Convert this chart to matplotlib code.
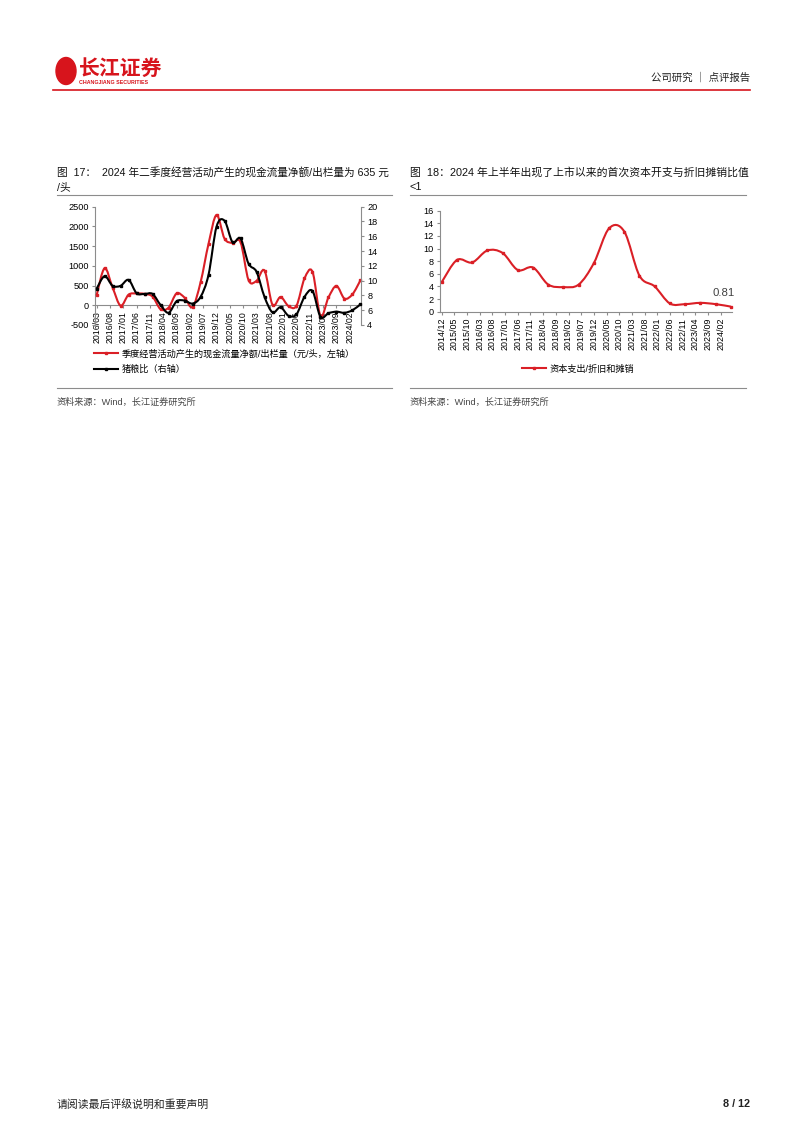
import matplotlib
matplotlib.use("Agg")
import matplotlib.pyplot as plt
import numpy as np
from matplotlib.path import Path
from matplotlib.patches import PathPatch, Ellipse
from matplotlib.lines import Line2D

plt.rcParams['font.family'] = ['Liberation Sans', 'Noto Sans CJK SC', 'DejaVu Sans']
plt.rcParams['axes.unicode_minus'] = False

# ---- data: figure 17 (quarterly) ----
left_dates = ['2016/03', '2016/06', '2016/09', '2016/12',
              '2017/03', '2017/06', '2017/09', '2017/12',
              '2018/03', '2018/06', '2018/09', '2018/12',
              '2019/03', '2019/06', '2019/09', '2019/12',
              '2020/03', '2020/06', '2020/09', '2020/12',
              '2021/03', '2021/06', '2021/09', '2021/12',
              '2022/03', '2022/06', '2022/09', '2022/12',
              '2023/03', '2023/06', '2023/09', '2023/12',
              '2024/03', '2024/06']
cash_per_head = [250, 940, 450, -10,
                 270, 300, 290, 220,
                 -100, -60, 300, 195,
                 -45, 580, 1560, 2290,
                 1690, 1580, 1600, 640,
                 620, 880, 10, 210,
                 -20, -10, 680, 850,
                 -270, 200, 490, 170,
                 280, 635]
pig_grain = [8.9, 10.6, 9.3, 9.3,
             10.1, 8.3, 8.2, 8.2,
             6.7, 5.65, 7.2, 7.3,
             6.9, 7.8, 10.8, 17.3,
             18.1, 15.2, 15.7, 12.3,
             11.2, 7.8, 5.7, 6.4,
             5.25, 5.45, 7.8, 8.6,
             5.1, 5.6, 5.8, 5.65,
             6.0, 6.8]
left_ticklabels = ['2016/03', '2016/08', '2017/01', '2017/06', '2017/11',
                   '2018/04', '2018/09', '2019/02', '2019/07', '2019/12',
                   '2020/05', '2020/10', '2021/03', '2021/08', '2022/01',
                   '2022/06', '2022/11', '2023/04', '2023/09', '2024/02']

# ---- data: figure 18 (semi-annual) ----
right_dates = ['2014/12', '2015/06', '2015/12', '2016/06', '2016/12',
               '2017/06', '2017/12', '2018/06', '2018/12', '2019/06',
               '2019/12', '2020/06', '2020/12', '2021/06', '2021/12',
               '2022/06', '2022/12', '2023/06', '2023/12', '2024/06']
capex_ratio = [4.7, 8.2, 7.8, 9.7, 9.3, 6.6, 7.0, 4.3, 3.9, 4.3,
               7.7, 13.2, 12.7, 5.7, 4.0, 1.3, 1.2, 1.4, 1.2, 0.81]
right_ticklabels = ['2014/12', '2015/05', '2015/10', '2016/03', '2016/08',
                    '2017/01', '2017/06', '2017/11', '2018/04', '2018/09',
                    '2019/02', '2019/07', '2019/12', '2020/05', '2020/10',
                    '2021/03', '2021/08', '2022/01', '2022/06', '2022/11',
                    '2023/04', '2023/09', '2024/02']

RED = '#DA1F26'
GRAY = '#8C8C8C'
W, H = 802, 1133


def month_index(labels, start):
    """months elapsed since the start label, e.g. '2016/03'"""
    y0, m0 = map(int, start.split('/'))
    out = []
    for s in labels:
        y, m = map(int, s.split('/'))
        out.append((y - y0) * 12 + (m - m0))
    return np.array(out, dtype=float)


def smooth_path(xs, ys):
    """Excel-like smoothed line through the points (cubic bezier)"""
    pts = np.column_stack([xs, ys]).astype(float)
    n = len(pts)
    verts = [pts[0]]
    codes = [Path.MOVETO]
    for i in range(n - 1):
        p0 = pts[i - 1] if i > 0 else pts[i]
        p1, p2 = pts[i], pts[i + 1]
        p3 = pts[i + 2] if i + 2 < n else pts[i + 1]
        verts += [p1 + (p2 - p0) / 6, p2 - (p3 - p1) / 6, p2]
        codes += [Path.CURVE4] * 3
    return Path(verts, codes)


def fx(px):
    return px / W


def fy(py):
    return 1 - py / H


def hline(fig, x0, x1, y, color, lw):
    fig.add_artist(Line2D([fx(x0), fx(x1)], [fy(y), fy(y)],
                          transform=fig.transFigure, color=color, lw=lw))


fig = plt.figure(figsize=(W / 100, H / 100), dpi=100)

# header
fig.add_artist(Ellipse((fx(66), fy(71)), fx(20) - fx(0), fy(0) - fy(27),
                       transform=fig.transFigure, color='#D7141C'))
fig.text(fx(79), fy(68), '长江证券', color='#D7141C', fontsize=15,
         fontweight='bold', va='center', family=['Noto Sans CJK SC'])
fig.text(fx(79), fy(82), 'CHANGJIANG SECURITIES', color='#D7141C',
         fontsize=3.8, fontweight='bold', va='center')
fig.text(fx(750), fy(78), '公司研究 ｜ 点评报告', fontsize=7.5, ha='right',
         va='center', color='#222222')
hline(fig, 53, 750, 90, '#D7141C', 1.2)

# titles
fig.text(fx(57), fy(172), '图  17：  2024 年二季度经营活动产生的现金流量净额/出栏量为 635 元',
         fontsize=7.7, va='center', color='#111111')
fig.text(fx(57), fy(187), '/头', fontsize=7.7, va='center', color='#111111')
fig.text(fx(410), fy(172), '图  18：2024 年上半年出现了上市以来的首次资本开支与折旧摊销比值',
         fontsize=7.8, va='center', color='#111111')
fig.text(fx(410), fy(187), '<1', fontsize=7.8, va='center', color='#111111')
hline(fig, 57, 392, 195, GRAY, 0.8)
hline(fig, 410, 746, 195, GRAY, 0.8)
hline(fig, 57, 392, 388, GRAY, 0.8)
hline(fig, 410, 746, 388, GRAY, 0.8)
fig.text(fx(57), fy(402), '资料来源：Wind，长江证券研究所', fontsize=6.6,
         va='center', color='#444444')
fig.text(fx(410), fy(402), '资料来源：Wind，长江证券研究所', fontsize=6.6,
         va='center', color='#444444')

# footer
fig.text(fx(57), fy(1104), '请阅读最后评级说明和重要声明', fontsize=7.8,
         va='center', color='#222222')
fig.text(fx(750), fy(1104), '8 / 12', fontsize=7.8, ha='right', va='center',
         fontweight='bold', color='#222222')

# ---- left chart ----
lx = month_index(left_dates, '2016/03')
ax = fig.add_axes([fx(95), fy(325), fx(361) - fx(95), fy(206.7) - fy(325)])
ax2 = ax.twinx()
ax.set_ylim(-500, 2500)
ax.set_yticks(np.arange(-500, 2501, 500))
ax2.set_ylim(4, 20)
ax2.set_yticks(np.arange(4, 21, 2))
ax.set_xlim(-0.6, 99.2)

for a in (ax, ax2):
    a.spines['top'].set_visible(False)
ax2.spines['bottom'].set_visible(False)
ax.spines['right'].set_visible(False)
ax2.spines['left'].set_visible(False)
ax.spines['left'].set_color(GRAY)
ax2.spines['right'].set_color(GRAY)
ax.spines['bottom'].set_position(('data', 0))
ax.spines['bottom'].set_color(GRAY)

ax.set_xticks(np.arange(0, 100, 5))
ax.set_xticklabels(left_ticklabels, rotation=90)
ax.tick_params(axis='x', length=2.5, color=GRAY, labelsize=6.3, pad=2)
ax.tick_params(axis='y', length=2.5, color=GRAY, labelsize=6.6, pad=2)
ax2.tick_params(axis='y', length=2.5, color=GRAY, labelsize=6.6, pad=2)

# lines drawn above the date labels, as in the source chart
ax2.add_patch(PathPatch(smooth_path(lx, pig_grain), fill=False,
                        edgecolor='black', lw=1.5, zorder=5, clip_on=False))
ax2.plot(lx, pig_grain, ls='none', marker='s', ms=1.6, color='black',
         zorder=5, clip_on=False)
ax.add_patch(PathPatch(smooth_path(lx, cash_per_head), fill=False,
                       edgecolor=RED, lw=1.5, zorder=5, clip_on=False))
ax.plot(lx, cash_per_head, ls='none', marker='s', ms=1.6, color=RED,
        zorder=5, clip_on=False)
ax.set_zorder(ax2.get_zorder() - 1)

left_handles = [Line2D([], [], color=RED, lw=1.5, marker='s', ms=1.6),
                Line2D([], [], color='black', lw=1.5, marker='s', ms=1.6)]
fig.legend(left_handles,
           ['季度经营活动产生的现金流量净额/出栏量（元/头，左轴）', '猪粮比（右轴）'],
           loc='upper left', bbox_to_anchor=(fx(94), fy(349)), frameon=False,
           fontsize=6.6, handlelength=2.6, handletextpad=0.4, labelspacing=0.75,
           borderpad=0, borderaxespad=0)

# ---- right chart ----
rx = month_index(right_dates, '2014/12')
bx = fig.add_axes([fx(440), fy(311.7), fx(732) - fx(440), fy(210.7) - fy(311.7)])
bx.set_ylim(0, 16)
bx.set_yticks(np.arange(0, 17, 2))
bx.set_xlim(-0.7, 114.5)
bx.add_patch(PathPatch(smooth_path(rx, capex_ratio), fill=False,
                       edgecolor=RED, lw=1.5))
bx.plot(rx, capex_ratio, ls='none', marker='s', ms=1.6, color=RED,
        clip_on=False)
bx.annotate(f'{capex_ratio[-1]:.2f}', xy=(rx[-1], capex_ratio[-1]),
            xytext=(-5, 10), textcoords='offset points', ha='center',
            va='center', fontsize=8.2, color='#404040')
bx.spines['top'].set_visible(False)
bx.spines['right'].set_visible(False)
bx.spines['left'].set_color(GRAY)
bx.spines['bottom'].set_color(GRAY)
bx.set_xticks(np.arange(0, 111, 5))
bx.set_xticklabels(right_ticklabels, rotation=90)
bx.tick_params(axis='x', length=2.5, color=GRAY, labelsize=6.4, pad=2)
bx.tick_params(axis='y', length=2.5, color=GRAY, labelsize=6.6, pad=2)

fig.legend([Line2D([], [], color=RED, lw=1.5, marker='s', ms=1.6)],
           ['资本支出/折旧和摊销'], loc='center',
           bbox_to_anchor=(fx(578), fy(369)), frameon=False, fontsize=6.6,
           handlelength=2.6, handletextpad=0.4, borderpad=0, borderaxespad=0)

fig.savefig('out.png', dpi=100)
